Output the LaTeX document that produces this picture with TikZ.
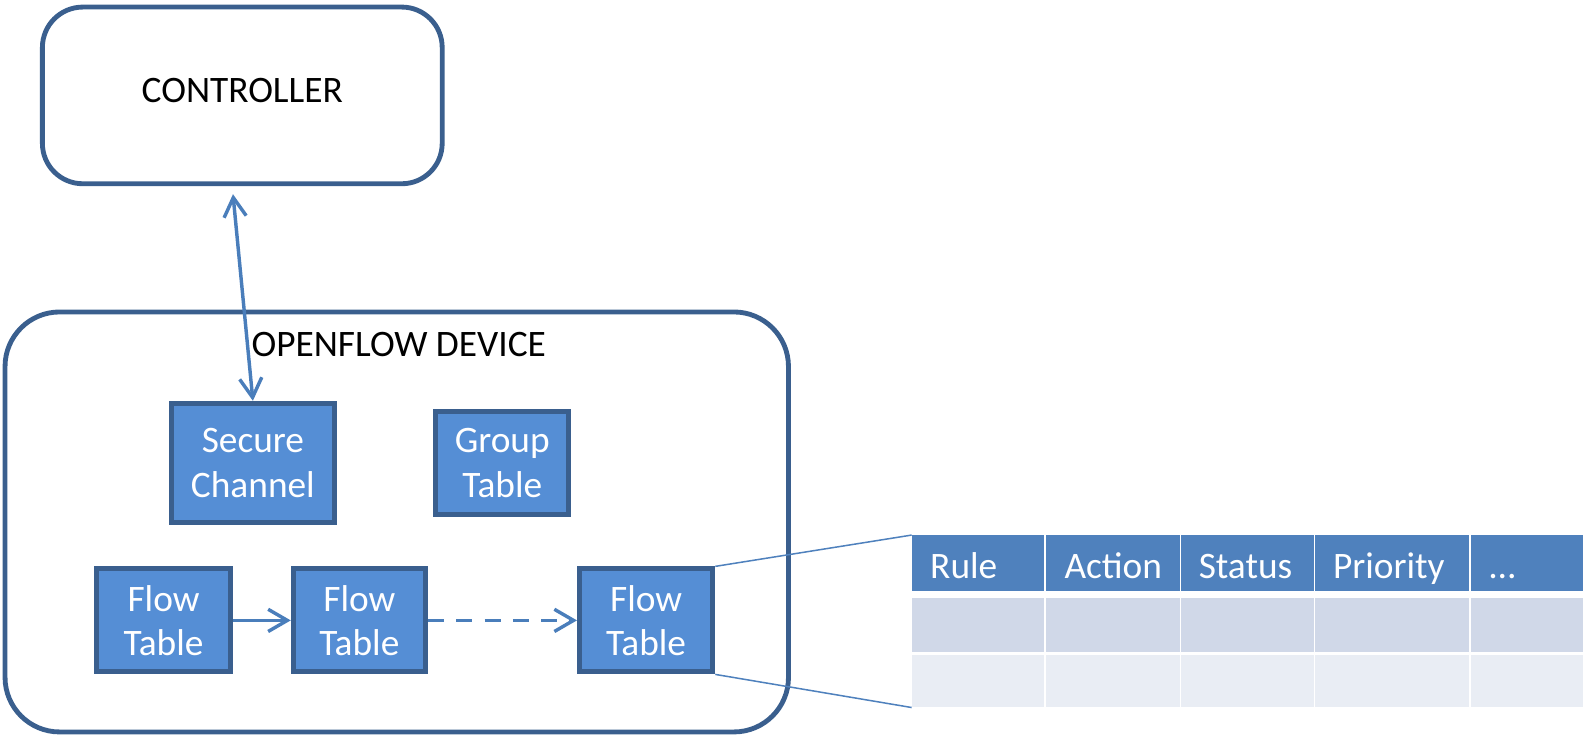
\documentclass[tikz,border=0pt]{standalone}
\usepackage{fontspec}
\setmainfont{Carlito}
\usetikzlibrary{arrows.meta}
\definecolor{edgeblue}{HTML}{3A5F8E}
\definecolor{boxblue}{HTML}{558ED5}
\definecolor{linkblue}{HTML}{4A7EBB}
\definecolor{headblue}{HTML}{4F81BD}
\definecolor{rowdark}{HTML}{D0D8E8}
\definecolor{rowlight}{HTML}{E9EDF4}

\begin{document}
\begin{tikzpicture}[x=0.5pt, y=-0.5pt, font=\fontsize{18.5}{22}\selectfont,
  >={Straight Barb[length=9.5pt,width=11pt]},
  outer/.style={draw=edgeblue, line width=2.4pt, rounded corners=#1, inner sep=0pt},
  unit/.style={draw=edgeblue, fill=boxblue, line width=2.5pt, text=white, align=center, inner sep=0pt, minimum width=#1, minimum height=51pt},
  link/.style={draw=linkblue, line width=1.7pt},
  cell/.style={fill=#1, anchor=north west, inner sep=0pt}]
\useasboundingbox (0, 0) rectangle (1568, 729);
\node (ctrl) [outer=20pt, minimum width=198pt, minimum height=87.5pt, text depth=5pt] at (240, 94.5) {CONTROLLER};
\node (dev) [outer=27pt, minimum width=388pt, minimum height=208pt] at (393, 517) {};
\node (devlabel) at (395, 341) {OPENFLOW DEVICE};
\node (sec) [unit=81pt, minimum height=59pt] at (250.5, 458.5) {Secure\\Channel};
\node (grp) [unit=66pt] at (497.5, 458.5) {Group\\Table};
\node (ft1) [unit=66pt] at (162, 614.5) {Flow\\Table};
\node (ft2) [unit=65.5pt] at (356, 614.5) {Flow\\Table};
\node (ft3) [unit=66pt] at (640, 614.5) {Flow\\Table};
\draw [link, <->, shorten <=4pt] ([xshift=-5pt]ctrl.south) -- (sec.north);
\draw [link, ->] (ft1) -- (ft2);
\draw [link, ->, dash pattern=on 8pt off 6pt] (ft2) -- (ft3);
\foreach \name/\x/\w/\txt in {rule/903/131/Rule, act/1036/132/Action, stat/1169/132/Status, prio/1302/153/Priority, more/1457/111/\ldots} {
  \pgfmathsetmacro\tw{\w/2-18}
  \pgfmathsetmacro\cw{\w/2}
  \node (h\name) [cell=headblue, inner xsep=9pt, text width=\tw pt, minimum height=27.5pt, text height=15pt, text depth=0pt, text=white, align=left] at (\x, 530) {\txt};
  \node (a\name) [cell=rowdark, minimum width=\cw pt, minimum height=26.5pt] at (\x, 592) {};
  \node (b\name) [cell=rowlight, minimum width=\cw pt, minimum height=26pt] at (\x, 648) {};
}
\draw [draw=headblue, line width=0.75pt] (ft3.north east) -- (hrule.north west);
\draw [draw=headblue, line width=0.75pt] (ft3.south east) -- (brule.south west);
\end{tikzpicture}
\end{document}
